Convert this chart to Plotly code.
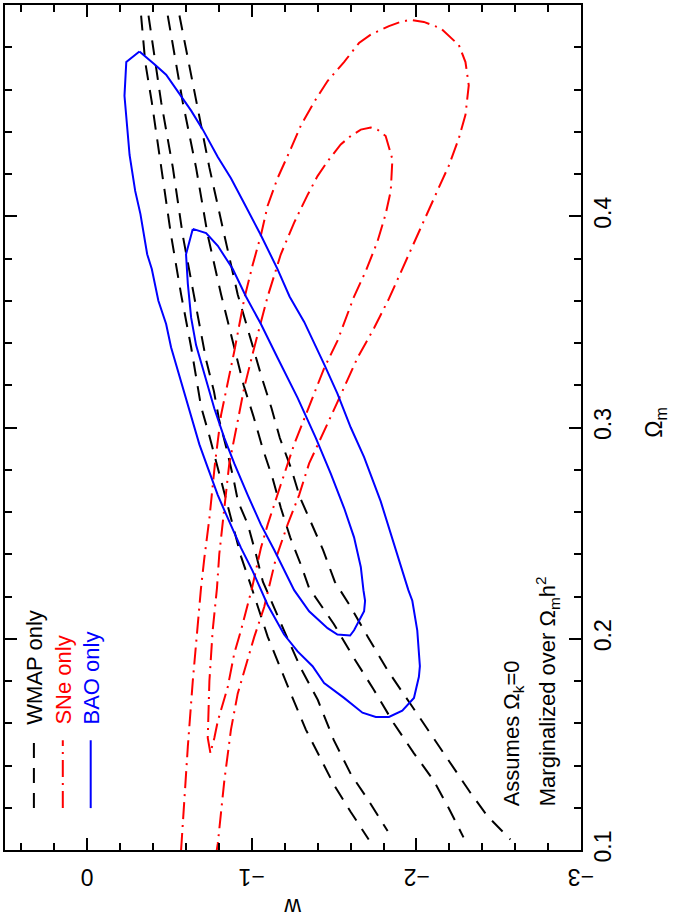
import plotly.graph_objects as go

# ---------------- data (w, Omega_m) ----------------
# BAO only (blue, solid) - outer (95%) contour
bao_outer_w = [-0.317, -0.237, -0.226, -0.257, -0.291, -0.323, -0.364, -0.392, -0.432, -0.479, -0.509,
               -0.550, -0.611, -0.681, -0.732, -0.793, -0.843, -0.934, -1.005, -1.096, -1.196, -1.278,
               -1.369, -1.439, -1.560, -1.672, -1.753, -1.833, -1.914, -1.985, -2.015, -2.021, -2.005,
               -1.975, -1.951, -1.904, -1.854, -1.783, -1.682, -1.601, -1.520, -1.439, -1.318, -1.229,
               -1.156, -1.055, -0.954, -0.873, -0.793, -0.702, -0.631, -0.479, -0.408, -0.317]
bao_outer_om = [0.478, 0.473, 0.457, 0.429, 0.412, 0.401, 0.382, 0.375, 0.360, 0.349, 0.338,
                0.327, 0.311, 0.292, 0.281, 0.268, 0.259, 0.243, 0.232, 0.216, 0.202, 0.194,
                0.187, 0.179, 0.172, 0.165, 0.163, 0.163, 0.166, 0.172, 0.182, 0.187, 0.204,
                0.218, 0.223, 0.235, 0.248, 0.265, 0.286, 0.300, 0.316, 0.330, 0.350, 0.362,
                0.375, 0.391, 0.406, 0.418, 0.428, 0.441, 0.450, 0.467, 0.472, 0.478]

# BAO only - inner (68%) contour
bao_inner_w = [-0.641, -0.600, -0.611, -0.619, -0.631, -0.661, -0.711, -0.772, -0.833, -0.893, -0.975,
               -1.055, -1.136, -1.257, -1.348, -1.460, -1.520, -1.597, -1.621, -1.682, -1.688, -1.678,
               -1.662, -1.621, -1.560, -1.480, -1.389, -1.278, -1.156, -1.055, -0.964, -0.884, -0.793,
               -0.722, -0.641]
bao_inner_om = [0.394, 0.382, 0.368, 0.360, 0.352, 0.339, 0.325, 0.309, 0.295, 0.283, 0.268,
                0.254, 0.242, 0.223, 0.213, 0.205, 0.202, 0.2015, 0.204, 0.213, 0.218, 0.223,
                0.234, 0.248, 0.262, 0.278, 0.295, 0.314, 0.333, 0.349, 0.362, 0.375, 0.386,
                0.392, 0.394]

# SNe only (red, dash-dot) - outer contour (open, leaves the bottom of the frame)
sne_outer_w = [-0.570, -0.586, -0.611, -0.641, -0.671, -0.691, -0.711, -0.742, -0.776, -0.813, -0.893,
               -0.954, -1.005, -1.055, -1.096, -1.156, -1.237, -1.298, -1.378, -1.460, -1.560, -1.651,
               -1.722, -1.833, -1.904, -1.965, -2.045, -2.147, -2.258, -2.298, -2.318, -2.298, -2.258,
               -2.197, -2.127, -2.036, -1.945, -1.833, -1.742, -1.642, -1.520, -1.419, -1.348, -1.287,
               -1.217, -1.146, -1.104, -1.075, -1.015, -0.964, -0.914, -0.873, -0.833, -0.793, -0.785]
sne_outer_om = [0.100, 0.120, 0.149, 0.180, 0.209, 0.224, 0.238, 0.257, 0.283, 0.306, 0.336,
                0.361, 0.377, 0.391, 0.405, 0.418, 0.432, 0.443, 0.454, 0.464, 0.473, 0.482,
                0.486, 0.490, 0.492, 0.493, 0.492, 0.489, 0.481, 0.473, 0.462, 0.448, 0.437,
                0.424, 0.412, 0.396, 0.380, 0.361, 0.347, 0.333, 0.312, 0.295, 0.283, 0.268,
                0.254, 0.238, 0.225, 0.215, 0.201, 0.187, 0.174, 0.157, 0.133, 0.103, 0.099]

# SNe only - inner contour
sne_inner_w = [-0.748, -0.732, -0.742, -0.762, -0.788, -0.802, -0.833, -0.863, -0.914, -0.954, -1.015,
               -1.096, -1.176, -1.257, -1.338, -1.399, -1.460, -1.540, -1.601, -1.662, -1.722, -1.763,
               -1.813, -1.854, -1.844, -1.813, -1.763, -1.692, -1.621, -1.520, -1.439, -1.338, -1.257,
               -1.176, -1.096, -1.055, -1.001, -0.934, -0.893, -0.853, -0.813, -0.793, -0.772, -0.748]
sne_inner_om = [0.146, 0.153, 0.180, 0.204, 0.224, 0.240, 0.262, 0.283, 0.303, 0.319, 0.338,
                0.362, 0.382, 0.397, 0.410, 0.419, 0.426, 0.434, 0.438, 0.441, 0.442, 0.441,
                0.438, 0.427, 0.412, 0.401, 0.388, 0.374, 0.362, 0.341, 0.328, 0.308, 0.292,
                0.273, 0.254, 0.243, 0.224, 0.204, 0.193, 0.177, 0.166, 0.161, 0.153, 0.146]

# WMAP only (black, dashed) - four contour boundary lines
wmap1_w = [-0.327, -0.352, -0.392, -0.449, -0.509, -0.570, -0.631, -0.691, -0.742, -0.833, -0.934,
           -0.995, -1.096, -1.237, -1.328, -1.498, -1.601, -1.710]
wmap1_om = [0.495, 0.473, 0.454, 0.423, 0.391, 0.363, 0.338, 0.310, 0.296, 0.269, 0.239,
            0.225, 0.201, 0.174, 0.157, 0.131, 0.118, 0.105]
wmap2_w = [-0.372, -0.449, -0.520, -0.580, -0.647, -0.722, -0.770, -0.800, -0.843, -0.885, -0.916,
           -0.976, -1.025, -1.067, -1.195, -1.298, -1.401, -1.498, -1.601, -1.704, -1.825]
wmap2_om = [0.495, 0.454, 0.423, 0.391, 0.363, 0.332, 0.317, 0.304, 0.291, 0.277, 0.265,
            0.254, 0.240, 0.227, 0.204, 0.186, 0.171, 0.152, 0.136, 0.124, 0.109]
wmap3_w = [-0.489, -0.580, -0.661, -0.732, -0.813, -0.950, -1.011, -1.066, -1.126, -1.176, -1.233,
           -1.298, -1.348, -1.498, -1.619, -1.740, -1.862, -1.983, -2.104, -2.195, -2.286]
wmap3_om = [0.495, 0.454, 0.423, 0.391, 0.363, 0.320, 0.305, 0.290, 0.276, 0.262, 0.248,
            0.235, 0.224, 0.207, 0.191, 0.176, 0.160, 0.146, 0.133, 0.120, 0.106]
wmap4_w = [-0.560, -0.661, -0.742, -0.833, -0.914, -1.059, -1.120, -1.170, -1.237, -1.292, -1.363,
           -1.433, -1.504, -1.601, -1.704, -1.825, -1.965, -2.086, -2.207, -2.329, -2.432, -2.571]
wmap4_om = [0.495, 0.454, 0.423, 0.391, 0.363, 0.324, 0.309, 0.295, 0.281, 0.267, 0.254,
            0.242, 0.227, 0.215, 0.201, 0.185, 0.169, 0.155, 0.141, 0.127, 0.116, 0.105]

w_ticks = [0, -1, -2, -3]
w_tick_labels = ["0", "−1", "−2", "−3"]
om_ticks = [0.1, 0.2, 0.3, 0.4]
om_tick_labels = ["0.1", "0.2", "0.3", "0.4"]
legend_labels = ["WMAP only", "SNe only", "BAO only"]

# ---------------- styles ----------------
FONT = "Liberation Sans, Arial, Helvetica, sans-serif"
BLACK_DASH = "15px,10px"
RED_DASH = "17px,6px,2px,6px"
LW = 2

fig = go.Figure()


def add_line(xs, ys, color, dash):
    fig.add_trace(go.Scatter(x=xs, y=ys, mode="lines", showlegend=False, hoverinfo="skip",
                             line=dict(color=color, width=LW, dash=dash)))


for xs, ys in [(wmap1_w, wmap1_om), (wmap2_w, wmap2_om), (wmap3_w, wmap3_om), (wmap4_w, wmap4_om)]:
    add_line(xs, ys, "black", BLACK_DASH)
add_line(sne_outer_w, sne_outer_om, "red", RED_DASH)
add_line(sne_inner_w, sne_inner_om, "red", RED_DASH)
add_line(bao_outer_w, bao_outer_om, "blue", "solid")
add_line(bao_inner_w, bao_inner_om, "blue", "solid")

# plot area: x 3..581 px, y 3..850 px
L, R, T, B = 3, 93, 3, 70
W, H = 674, 920
PW, PH = W - L - R, H - T - B


def px(xp):
    return (xp - L) / PW


def py(yp):
    return (H - B - yp) / PH


# legend (drawn rotated, as in the original landscape figure)
leg_colors = ["black", "red", "blue"]
leg_dashes = [BLACK_DASH, RED_DASH, "solid"]
leg_x_line = [32, 61, 89]
leg_x_text = [33, 62, 90]
shapes = []
annotations = []
for lab, col, dsh, xl, xt in zip(legend_labels, leg_colors, leg_dashes, leg_x_line, leg_x_text):
    shapes.append(dict(type="line", xref="paper", yref="paper", x0=px(xl), x1=px(xl),
                       y0=py(808), y1=py(740), line=dict(color=col, width=LW, dash=dsh)))
    annotations.append(dict(text=lab, xref="paper", yref="paper", x=px(xt), y=py(726),
                            xanchor="center", yanchor="bottom", textangle=-90, showarrow=False,
                            font=dict(family=FONT, size=22, color=col)))

annotations.append(dict(text="Assumes Ω<sub>k</sub>=0", xref="paper", yref="paper",
                        x=px(513), y=py(808), xanchor="center", yanchor="bottom", textangle=-90,
                        showarrow=False, font=dict(family=FONT, size=22, color="black")))
annotations.append(dict(text="Marginalized over Ω<sub>m</sub>h<sup>2</sup>", xref="paper", yref="paper",
                        x=px(547), y=py(808), xanchor="center", yanchor="bottom", textangle=-90,
                        showarrow=False, font=dict(family=FONT, size=22, color="black")))
# w tick labels (upside down, as in the rotated original), placed on the w scale
for v, lab in zip(w_ticks, w_tick_labels):
    annotations.append(dict(text=lab, xref="x", yref="paper", x=v, y=py(877),
                            xanchor="center", yanchor="middle", textangle=180, showarrow=False,
                            font=dict(family=FONT, size=23, color="black")))
# axis titles
annotations.append(dict(text="Ω<sub>m</sub>", xref="paper", yref="paper", x=px(655), y=py(421),
                        xanchor="center", yanchor="middle", textangle=-90, showarrow=False,
                        font=dict(family=FONT, size=23, color="black")))
annotations.append(dict(text="w", xref="paper", yref="paper", x=px(292), y=py(907),
                        xanchor="center", yanchor="middle", textangle=180, showarrow=False,
                        font=dict(family=FONT, size=23, color="black")))

axis_common = dict(showgrid=False, zeroline=False, showline=True, linecolor="black", linewidth=2,
                   mirror="ticks", ticks="inside", ticklen=12, tickwidth=1.6, tickcolor="black",
                   tickfont=dict(family=FONT, size=23, color="black"))

fig.update_layout(
    width=W, height=H,
    margin=dict(l=L, r=R, t=T, b=B, pad=0),
    plot_bgcolor="white", paper_bgcolor="white",
    showlegend=False,
    shapes=shapes,
    annotations=annotations,
    xaxis=dict(range=[0.5, -3], tickmode="array", tickvals=w_ticks, showticklabels=False,
               minor=dict(dtick=0.2, tick0=0, ticks="inside", ticklen=7, tickwidth=1.6, tickcolor="black"),
               **axis_common),
    yaxis=dict(range=[0.1, 0.5], side="right", tickmode="array", tickvals=om_ticks,
               ticktext=om_tick_labels, tickangle=-90, ticklabelstandoff=0,
               minor=dict(dtick=0.02, tick0=0.1, ticks="inside", ticklen=7, tickwidth=1.6, tickcolor="black"),
               **axis_common),
)

fig.write_html("out.html", config={"displayModeBar": False},
               post_script="document.body.style.margin='0';document.body.style.padding='0';"
                           "document.body.style.overflow='hidden';")
